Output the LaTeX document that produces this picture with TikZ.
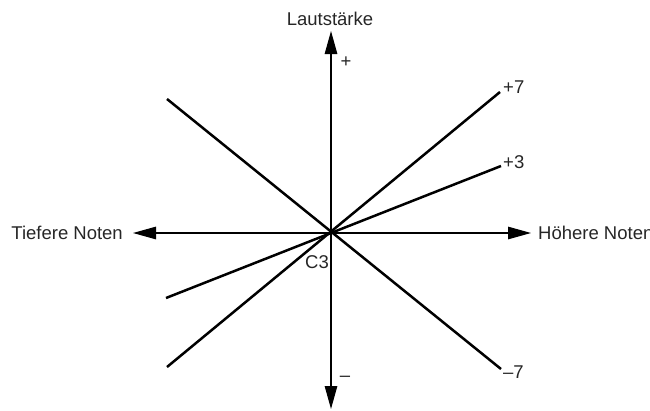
\documentclass[tikz,border=0pt]{standalone}
\usepackage{fontspec}
\setmainfont{Liberation Sans}
\usetikzlibrary{arrows.meta}
\begin{document}
\begin{tikzpicture}[x=1pt,y=-1pt,
  lbl/.style={inner sep=0pt,font=\fontsize{18.5}{21}\selectfont,text=black!85},
  axis/.style={line width=1.2pt,-{Triangle[length=23pt,width=12.5pt]}},
  curve/.style={line width=2.5pt}]
\useasboundingbox (0,0) rectangle (650,410);
\coordinate (O) at (331,233);
\coordinate (top) at (331,31);
\coordinate (bot) at (331,409);
\coordinate (left) at (133,233);
\coordinate (right) at (531,233);
\coordinate (p7a) at (167,367);
\coordinate (p7b) at (500,92);
\coordinate (p3a) at (166,298);
\coordinate (p3b) at (501,166);
\coordinate (m7a) at (167,99);
\coordinate (m7b) at (501,369);
\draw[axis] (O) -- (top);
\draw[axis] (O) -- (bot);
\draw[axis] (O) -- (left);
\draw[axis] (O) -- (right);
\draw[curve] (p7a) -- (p7b);
\draw[curve] (p3a) -- (p3b);
\draw[curve] (m7a) -- (m7b);
\node[lbl] (laut) at (330,19) {Lautstärke};
\node[lbl,anchor=east] (tief) at (123,233) {Tiefere Noten};
\node[lbl,anchor=west] (hoch) at (538,233) {Höhere Noten};
\node[lbl] (plus) at (346,62) {+};
\node[lbl] (minus) at (345,379) {–};
\node[lbl] (c3) at (317,262) {C3};
\node[lbl,anchor=west] (l7) at (503,87) {+7};
\node[lbl,anchor=west] (l3) at (503,162) {+3};
\node[lbl,anchor=west] (lm7) at (503,372) {–7};
\end{tikzpicture}
\end{document}
